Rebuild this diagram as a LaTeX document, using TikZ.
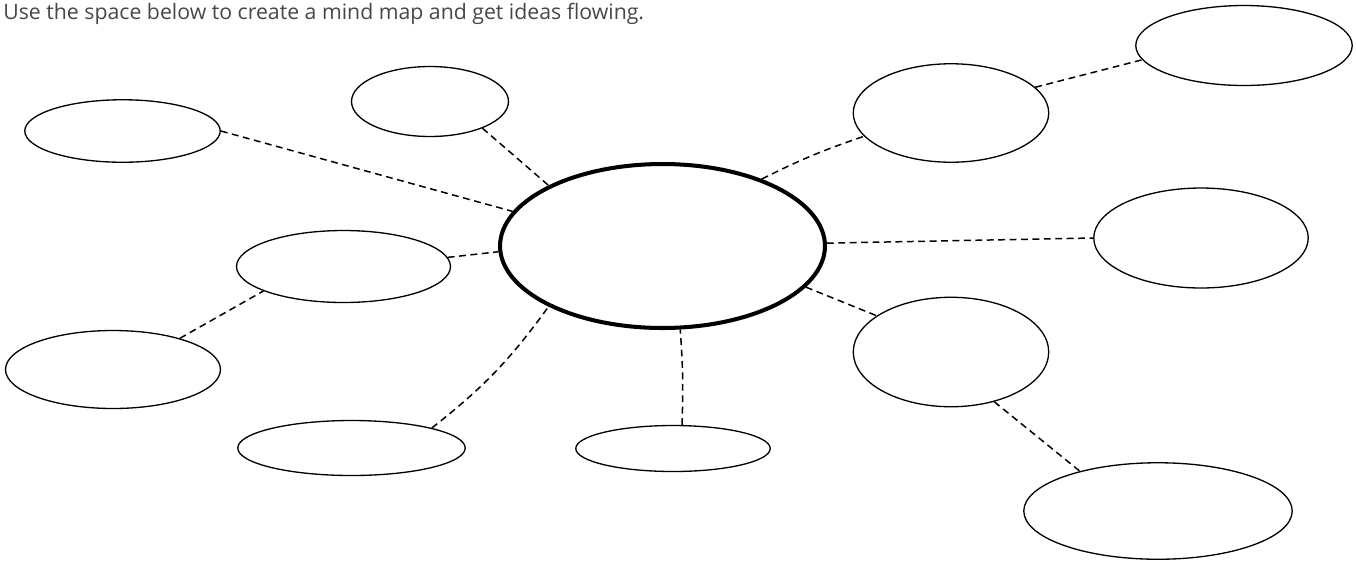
\documentclass[tikz,border=0pt]{standalone}
\usepackage{fontspec}
\setmainfont{Open Sans}
\usetikzlibrary{shapes.geometric}

\tikzset{
  bubble/.style={ellipse, draw, line width=0.75pt, inner sep=0pt},
  topicbubble/.style={ellipse, draw, line width=2.3pt, inner sep=0pt},
  link/.style={line width=0.85pt, dash pattern=on 3.9pt off 2.6pt}
}

\begin{document}
\begin{tikzpicture}[x=0.02cm, y=-0.02cm]

\useasboundingbox (0, 0) rectangle (1356, 566);

% prompt
\node[anchor=base west, inner sep=0pt, text=black!72, font=\fontsize{12.1}{14}\selectfont] (prompt) at (3, 19) {Use the space below to create a mind map and get ideas flowing.};

% bubbles
\node[topicbubble, minimum width=6.50cm, minimum height=3.28cm] (topic) at (662.5, 246) {};
\node[bubble, minimum width=3.91cm, minimum height=1.25cm] (farleft) at (122.5, 131) {};
\node[bubble, minimum width=3.14cm, minimum height=1.40cm] (top) at (430, 101.5) {};
\node[bubble, minimum width=4.28cm, minimum height=1.44cm] (leftmid) at (343.5, 266.5) {};
\node[bubble, minimum width=4.30cm, minimum height=1.56cm] (leftlow) at (113, 369.5) {};
\node[bubble, minimum width=4.55cm, minimum height=1.10cm] (botleft) at (351.5, 448) {};
\node[bubble, minimum width=3.89cm, minimum height=0.92cm] (botmid) at (673, 448.5) {};
\node[bubble, minimum width=3.91cm, minimum height=1.97cm] (rightup) at (951, 113) {};
\node[bubble, minimum width=4.33cm, minimum height=1.60cm] (corner) at (1244, 45.5) {};
\node[bubble, minimum width=4.29cm, minimum height=2.00cm] (rightmid) at (1201, 238) {};
\node[bubble, minimum width=3.91cm, minimum height=2.19cm] (rightlow) at (951, 352) {};
\node[bubble, minimum width=5.37cm, minimum height=1.93cm] (botright) at (1158, 511) {};

% links
\draw[link] (farleft.0) -- (topic.167.4);
\draw[link] (top.-27.5) -- (topic.152.9);
\draw[link] (leftmid.5.9) -- (topic.182.1);
\draw[link] (leftlow.25) -- (leftmid.197);
\draw[link] (botleft.14) to[bend right=8] (topic.208.4);
\draw[link] (botmid.69.6) to[bend right=3] (topic.-78.5);
\draw[link] (topic.34.1) to[bend left=4] (rightup.195.2);
\draw[link] (rightup.17.8) -- (corner.188.1);
\draw[link] (topic.1) -- (rightmid.180);
\draw[link] (topic.-16.6) -- (rightlow.154.7);
\draw[link] (rightlow.-49.3) -- (botright.153.4);

\end{tikzpicture}
\end{document}
